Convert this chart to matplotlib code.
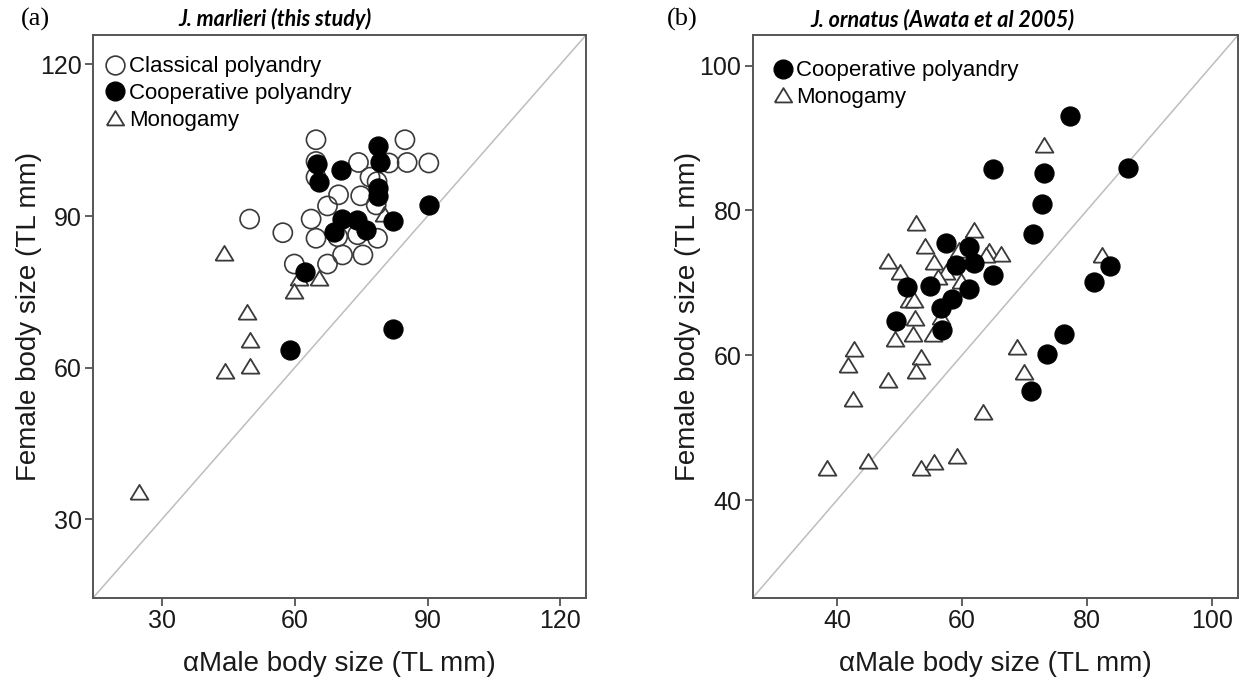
import numpy as np
import matplotlib
matplotlib.use("Agg")
import matplotlib.pyplot as plt
from matplotlib.lines import Line2D

plt.rcParams['font.family'] = ['Liberation Sans', 'DejaVu Sans']

# panel (a): J. marlieri
classical_x = [64.8, 84.9, 64.8, 74.4, 81.3, 85.4, 90.3, 64.8, 77.0, 78.6, 69.9, 74.9, 78.4,
               67.4, 49.8, 63.7, 57.3, 64.8, 69.7, 74.2, 78.7, 70.8, 75.4, 59.9, 67.4]
classical_y = [105.1, 105.1, 100.8, 100.6, 100.5, 100.6, 100.5, 97.7, 97.7, 96.8, 94.2, 94.0, 92.2,
               92.0, 89.4, 89.4, 86.7, 85.6, 85.9, 86.3, 85.6, 82.3, 82.3, 80.5, 80.5]
coop_a_x = [78.9, 65.0, 70.4, 79.3, 65.4, 78.8, 78.8, 90.3, 70.7, 74.0, 82.3, 68.9, 76.1, 62.4, 82.2, 59.0]
coop_a_y = [103.9, 100.3, 99.2, 100.6, 96.8, 95.5, 94.0, 92.2, 89.4, 89.3, 89.1, 86.9, 87.3, 79.0, 67.6, 63.4]
mono_a_x = [44.0, 61.0, 65.5, 59.9, 49.3, 49.8, 49.8, 44.2, 80.2, 24.8]
mono_a_y = [82.7, 77.7, 77.8, 75.1, 71.0, 65.5, 60.3, 59.4, 90.4, 35.3]

# panel (b): J. ornatus
coop_b_x = [77.3, 65.0, 73.2, 72.8, 71.4, 57.5, 61.1, 61.9, 59.0, 65.0, 54.9, 51.3, 61.1, 58.4,
            56.6, 49.4, 56.9, 76.3, 73.6, 71.0, 86.6, 83.7, 81.2]
coop_b_y = [93.1, 85.7, 85.2, 80.9, 76.7, 75.5, 75.0, 72.8, 72.5, 71.1, 69.6, 69.4, 69.2, 67.8,
            66.6, 64.8, 63.5, 62.9, 60.2, 55.1, 85.8, 72.4, 70.1]
mono_b_x = [73.1, 52.6, 62.0, 54.1, 48.1, 55.6, 59.6, 64.4, 66.3, 63.9, 50.1, 57.5, 56.2, 51.6,
            52.4, 59.9, 52.5, 56.7, 49.3, 52.2, 55.4, 42.8, 41.8, 53.4, 52.7, 48.2, 42.5, 68.9,
            70.0, 63.4, 38.4, 45.0, 53.4, 55.6, 59.2, 82.5]
mono_b_y = [89.1, 78.3, 77.3, 75.1, 73.0, 72.9, 74.5, 74.4, 74.0, 73.8, 71.5, 71.5, 70.8, 67.7,
            67.7, 70.2, 65.2, 65.3, 62.2, 63.0, 62.9, 60.9, 58.7, 59.8, 57.8, 56.6, 54.0, 61.1,
            57.7, 52.2, 44.5, 45.4, 44.4, 45.3, 46.1, 73.9]

lims_a = (14.4, 125.8)
lims_b = (26.5, 104.2)

tri = [(-1, -0.8), (1, -0.8), (0, 0.85), (-1, -0.8)]
edge = '#3a3a3a'
circ_s = 190
tri_s = 165


def style_axes(ax, lims, ticks):
    ax.plot(lims, lims, color='#bdbdbd', lw=1.1, zorder=1)
    ax.set_xlim(lims)
    ax.set_ylim(lims)
    ax.set_xticks(ticks)
    ax.set_yticks(ticks)
    for side in ['top', 'right', 'left', 'bottom']:
        ax.spines[side].set_color('#555555')
        ax.spines[side].set_linewidth(1.4)
    ax.tick_params(direction='out', length=6, width=1.2, color='#444444',
                   labelsize=18, labelcolor='#1a1a1a', pad=2)
    ax.set_xlabel('αMale body size (TL mm)', fontsize=20, color='#1a1a1a')
    ax.set_ylabel('Female body size (TL mm)', fontsize=20, color='#1a1a1a')


fig = plt.figure(figsize=(12.48, 6.83), dpi=100)
ax1 = fig.add_axes([0.0745, 0.1245, 0.395, 0.824])
ax2 = fig.add_axes([0.603, 0.1245, 0.389, 0.824])

style_axes(ax1, lims_a, [30, 60, 90, 120])
ax1.scatter(mono_a_x, mono_a_y, marker=tri, s=tri_s, facecolor='white', edgecolor=edge, lw=1.3, zorder=2)
ax1.scatter(classical_x, classical_y, marker='o', s=circ_s, facecolor='none', edgecolor=edge, lw=1.2, zorder=3)
ax1.scatter(coop_a_x, coop_a_y, marker='o', s=circ_s, facecolor='black', edgecolor='black', lw=0.8, zorder=4)

style_axes(ax2, lims_b, [40, 60, 80, 100])
ax2.scatter(mono_b_x, mono_b_y, marker=tri, s=tri_s, facecolor='white', edgecolor=edge, lw=1.3, zorder=2)
ax2.scatter(coop_b_x, coop_b_y, marker='o', s=circ_s, facecolor='black', edgecolor='black', lw=0.8, zorder=3)

ax1.yaxis.set_label_coords(-0.104, 0.5)
ax2.yaxis.set_label_coords(-0.107, 0.5)
for ax in (ax1, ax2):
    ax.xaxis.set_label_coords(0.5, -0.095)

h_cls = Line2D([], [], ls='none', marker='o', ms=13.5, mfc='white', mec=edge, mew=1.2)
h_coop = Line2D([], [], ls='none', marker='o', ms=13.5, mfc='black', mec='black')
h_mono = Line2D([], [], ls='none', marker=tri, ms=12.5, mfc='white', mec=edge, mew=1.3)

leg_kw = dict(frameon=False, fontsize=16, handletextpad=0.0, labelspacing=0.26,
              handlelength=1.2, borderaxespad=0.3, loc='upper left')
ax1.legend([h_cls, h_coop, h_mono], ['Classical polyandry', 'Cooperative polyandry', 'Monogamy'],
           bbox_to_anchor=(-0.013, 0.99), **leg_kw)
ax2.legend([h_coop, h_mono], ['Cooperative polyandry', 'Monogamy'],
           bbox_to_anchor=(0.003, 0.983), **leg_kw)

fig.text(0.2204, 0.972, 'J. marlieri (this study)', ha='center', va='center', fontsize=15.5,
         fontweight='bold', fontstyle='italic', family=['Lato', 'DejaVu Sans'])
fig.text(0.755, 0.972, 'J. ornatus (Awata et al 2005)', ha='center', va='center', fontsize=15.5,
         fontweight='bold', fontstyle='italic', family=['Lato', 'DejaVu Sans'])
fig.text(0.028, 0.972, '(a)', ha='center', va='center', fontsize=19, family=['Liberation Serif', 'DejaVu Serif'])
fig.text(0.547, 0.972, '(b)', ha='center', va='center', fontsize=19, family=['Liberation Serif', 'DejaVu Serif'])

fig.savefig('out.png', dpi=100, facecolor='white')
